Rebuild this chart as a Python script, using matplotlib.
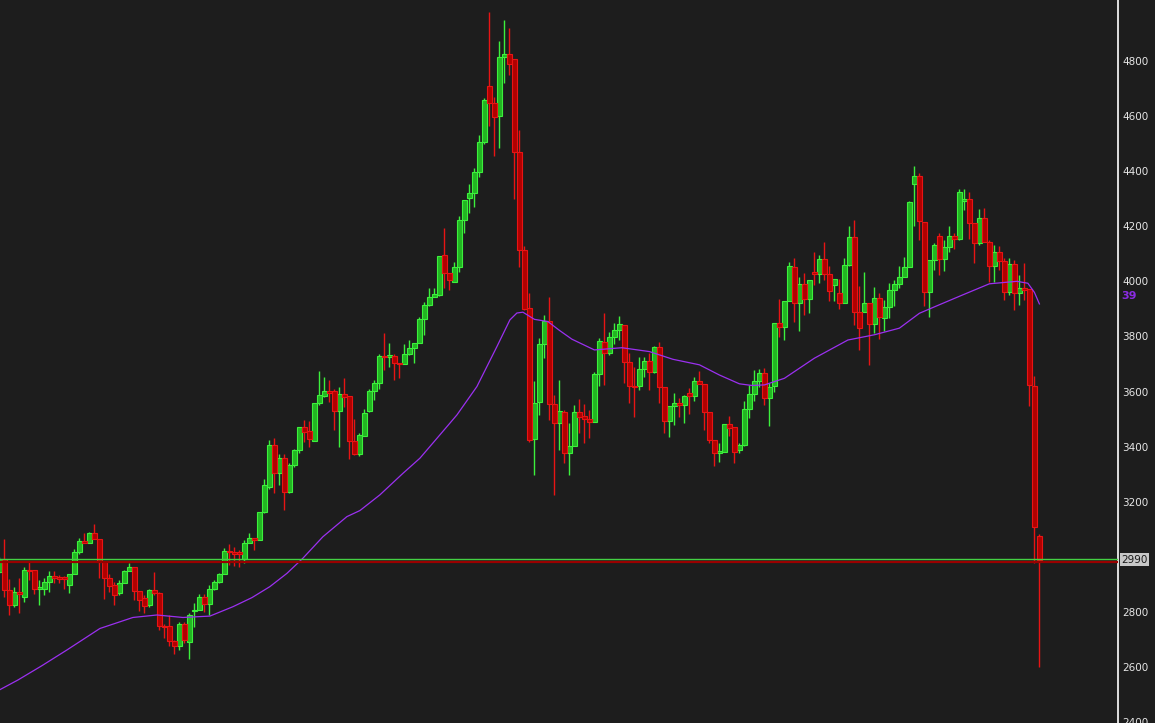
import matplotlib
matplotlib.use("Agg")
import matplotlib.pyplot as plt
import matplotlib.transforms as mtransforms
import numpy as np

# ---------------- data ----------------
open_ = [2946, 2994, 2879, 2825, 2871, 2855, 2954, 2952, 2882, 2882,
         2910, 2930, 2928, 2926, 2897, 2937, 3016, 3058, 3049, 3087,
         3063, 2982, 2925, 2897, 2867, 2904, 2948, 2962, 2876, 2849,
         2824, 2879, 2870, 2749, 2749, 2695, 2676, 2758, 2692, 2804,
         2807, 2855, 2829, 2882, 2907, 2937, 3021, 3018, 3016, 2991,
         3049, 3067, 3061, 3164, 3255, 3406, 3303, 3357, 3236, 3335,
         3388, 3470, 3456, 3421, 3557, 3585, 3602, 3602, 3530, 3590,
         3583, 3421, 3375, 3440, 3530, 3602, 3630, 3730, 3724, 3729,
         3705, 3699, 3738, 3759, 3777, 3862, 3914, 3944, 3950, 4096,
         4031, 3999, 4053, 4223, 4301, 4319, 4396, 4504, 4709, 4646,
         4601, 4813, 4825, 4806, 4471, 4114, 3902, 3427, 3563, 3771,
         3857, 3554, 3485, 3525, 3378, 3404, 3525, 3511, 3500, 3491,
         3663, 3781, 3741, 3797, 3823, 3842, 3706, 3620, 3620, 3681,
         3711, 3670, 3761, 3618, 3493, 3548, 3557, 3551, 3594, 3584,
         3639, 3628, 3527, 3424, 3376, 3382, 3482, 3470, 3386, 3406,
         3536, 3591, 3639, 3666, 3578, 3620, 3848, 3833, 3929, 4051,
         3921, 3989, 3935, 4033, 4027, 4080, 4027, 3987, 3957, 3923,
         4060, 4160, 3890, 3890, 3920, 3844, 3939, 3866, 3906, 3969,
         3991, 4017, 4051, 4354, 4383, 4217, 3963, 4078, 4165, 4080,
         4124, 4165, 4153, 4293, 4298, 4211, 4138, 4229, 4142, 4054,
         4105, 4072, 3963, 4063, 3957, 3975, 3971, 3619, 3077]
high = [3000, 3063, 2919, 2891, 2922, 2964, 2985, 2952, 2916, 2925,
        2950, 2950, 2934, 2930, 2937, 3027, 3067, 3085, 3091, 3119,
        3063, 2982, 2937, 2909, 2916, 2954, 2976, 2964, 2876, 2861,
        2882, 2946, 2873, 2758, 2789, 2698, 2764, 2764, 2795, 2831,
        2864, 2865, 2897, 2916, 2942, 3031, 3046, 3034, 3024, 3061,
        3087, 3070, 3164, 3281, 3424, 3430, 3373, 3373, 3339, 3393,
        3472, 3496, 3494, 3559, 3674, 3654, 3642, 3611, 3615, 3648,
        3583, 3502, 3448, 3535, 3608, 3642, 3738, 3813, 3775, 3738,
        3705, 3772, 3787, 3775, 3872, 3926, 3974, 3974, 4092, 4192,
        4031, 4071, 4237, 4295, 4353, 4410, 4531, 4664, 4976, 4670,
        4872, 4949, 4918, 4806, 4549, 4130, 3957, 3638, 3793, 3878,
        3944, 3588, 3642, 3533, 3485, 3551, 3573, 3555, 3533, 3670,
        3793, 3884, 3817, 3848, 3874, 3842, 3739, 3688, 3724, 3724,
        3739, 3766, 3781, 3618, 3548, 3594, 3576, 3588, 3612, 3652,
        3676, 3628, 3527, 3424, 3412, 3482, 3511, 3470, 3412, 3564,
        3624, 3679, 3681, 3687, 3630, 3848, 3936, 3929, 4069, 4084,
        4017, 4032, 4005, 4106, 4096, 4144, 4057, 4007, 4008, 4084,
        4201, 4223, 3983, 4035, 3920, 3981, 3957, 3933, 3993, 4005,
        4054, 4088, 4293, 4419, 4393, 4217, 4078, 4138, 4177, 4151,
        4201, 4175, 4336, 4335, 4324, 4211, 4262, 4265, 4151, 4132,
        4129, 4084, 4084, 4078, 4023, 4066, 3971, 3657, 3082]
low = [2940, 2855, 2789, 2819, 2795, 2837, 2916, 2864, 2827, 2861,
       2873, 2906, 2904, 2885, 2870, 2937, 3012, 3049, 3049, 3063,
       2924, 2847, 2873, 2825, 2861, 2904, 2948, 2843, 2803, 2797,
       2819, 2861, 2734, 2704, 2676, 2649, 2662, 2686, 2631, 2746,
       2807, 2801, 2789, 2879, 2904, 2937, 2970, 2968, 2964, 2976,
       3049, 3024, 3061, 3160, 3248, 3230, 3261, 3170, 3232, 3327,
       3378, 3418, 3400, 3421, 3551, 3581, 3563, 3462, 3400, 3545,
       3354, 3369, 3366, 3438, 3527, 3571, 3611, 3678, 3688, 3642,
       3648, 3699, 3732, 3702, 3775, 3806, 3910, 3944, 3945, 3975,
       3968, 3999, 4035, 4177, 4247, 4271, 4380, 4500, 4564, 4456,
       4483, 4721, 4749, 4300, 4053, 3895, 3418, 3297, 3515, 3721,
       3497, 3225, 3388, 3342, 3297, 3404, 3451, 3412, 3433, 3491,
       3620, 3624, 3733, 3773, 3787, 3632, 3557, 3509, 3606, 3654,
       3606, 3666, 3557, 3451, 3436, 3479, 3509, 3485, 3519, 3564,
       3628, 3461, 3412, 3331, 3346, 3382, 3439, 3342, 3376, 3404,
       3503, 3564, 3618, 3551, 3475, 3600, 3799, 3787, 3927, 3854,
       3818, 3878, 3884, 3987, 3993, 4005, 3927, 3927, 3899, 3923,
       4056, 3842, 3751, 3887, 3697, 3812, 3791, 3818, 3866, 3909,
       3975, 4017, 4051, 4199, 4151, 3909, 3872, 4042, 4023, 4036,
       4105, 4117, 4151, 4260, 4153, 4068, 4132, 4141, 3999, 3999,
       4042, 3933, 3951, 3896, 3915, 3933, 3549, 2976, 2600]
close = [2994, 2879, 2825, 2871, 2864, 2954, 2950, 2882, 2889, 2910,
         2930, 2925, 2920, 2919, 2937, 3018, 3057, 3051, 3087, 3063,
         2982, 2925, 2895, 2861, 2904, 2948, 2964, 2876, 2843, 2821,
         2879, 2867, 2749, 2744, 2695, 2676, 2758, 2698, 2789, 2807,
         2855, 2829, 2882, 2907, 2937, 3021, 3016, 3012, 3012, 3049,
         3067, 3061, 3164, 3261, 3406, 3303, 3357, 3236, 3335, 3388,
         3470, 3454, 3426, 3557, 3587, 3602, 3595, 3530, 3590, 3581,
         3421, 3373, 3442, 3521, 3602, 3632, 3729, 3724, 3732, 3705,
         3699, 3738, 3759, 3775, 3862, 3914, 3944, 3954, 4092, 4031,
         4005, 4053, 4223, 4295, 4319, 4396, 4504, 4658, 4646, 4598,
         4813, 4825, 4788, 4471, 4114, 3899, 3424, 3557, 3771, 3857,
         3554, 3485, 3531, 3378, 3404, 3525, 3509, 3499, 3491, 3663,
         3784, 3741, 3797, 3823, 3845, 3706, 3620, 3615, 3681, 3711,
         3670, 3761, 3618, 3493, 3548, 3557, 3551, 3582, 3584, 3639,
         3628, 3527, 3424, 3376, 3384, 3482, 3469, 3382, 3406, 3536,
         3591, 3639, 3666, 3578, 3618, 3848, 3833, 3929, 4054, 3921,
         3989, 3935, 4005, 4027, 4080, 4027, 3966, 4007, 3923, 4060,
         4160, 3890, 3830, 3920, 3844, 3939, 3870, 3906, 3969, 3991,
         4017, 4051, 4287, 4383, 4220, 3963, 4078, 4132, 4080, 4124,
         4165, 4153, 4324, 4298, 4211, 4138, 4229, 4142, 4054, 4105,
         4072, 3963, 4063, 3957, 3975, 3967, 3624, 3108, 2988]

# moving average line, read at sample bar positions
ma_pos = [0, 3.7, 8.5, 13.5, 20.1, 26.7, 31.5, 36.7, 42.1, 46.7,
          50.5, 54.1, 57.5, 60.7, 64.7, 69.5, 72.1, 76.1, 80.7, 84.1,
          87.5, 91.5, 95.5, 99.5, 102.1, 103.5, 104.7, 107, 109.7, 112,
          114.5, 119, 124.5, 130, 134.7, 140, 144, 148, 150.5, 153,
          157, 163, 169.7, 175, 180, 184, 188, 192.7, 198, 203.5,
          205.7, 207, 208]
ma_val = [2517, 2553, 2605, 2662, 2740, 2780, 2789, 2780, 2785, 2819,
          2852, 2892, 2940, 2995, 3073, 3146, 3168, 3225, 3303, 3358,
          3430, 3515, 3618, 3763, 3860, 3885, 3888, 3862, 3854, 3822,
          3790, 3751, 3759, 3745, 3717, 3697, 3660, 3628, 3622, 3624,
          3648, 3721, 3787, 3806, 3830, 3884, 3915, 3951, 3991, 4000,
          3993, 3960, 3918]

y_ticks = [2400, 2600, 2800, 3000, 3200, 3400, 3600, 3800, 4000, 4200, 4400, 4600, 4800]
y_tick_labels = [str(v) for v in y_ticks]
level_price = 2990
level_label = "2990"
ma_label = "39"
ma_label_price = 3946

# ---------------- styling ----------------
bg = "#1d1d1d"
g_fill, g_edge = "#22b522", "#3cf03c"
r_fill, r_edge = "#b00000", "#e81414"
ma_color = "#9b30f0"

fig = plt.figure(figsize=(11.55, 7.23), dpi=100, facecolor=bg)
ax = fig.add_axes([0, 0, 1118 / 1155, 1])
ax.set_facecolor(bg)

o = np.array(open_, float)
h = np.array(high, float)
l = np.array(low, float)
c = np.array(close, float)
x = np.arange(len(o))
up = c >= o
dn = ~up

ax.vlines(x[up], l[up], h[up], color=g_edge, lw=1.0, zorder=2)
ax.vlines(x[dn], l[dn], h[dn], color=r_edge, lw=1.0, zorder=2)

bottom = np.minimum(o, c)
height = np.maximum(np.abs(c - o), 4)
ax.bar(x[up], height[up], bottom=bottom[up], width=0.86,
       color=g_fill, edgecolor=g_edge, linewidth=0.8, zorder=3)
ax.bar(x[dn], height[dn], bottom=bottom[dn], width=0.86,
       color=r_fill, edgecolor=r_edge, linewidth=0.8, zorder=3)

ax.plot(ma_pos, ma_val, color=ma_color, lw=0.9, zorder=4)

ax.axhline(level_price - 7, color="#9a0000", lw=1.6, zorder=5)
ax.axhline(level_price + 1, color="#44d044", lw=1.0, zorder=6)

ax.set_xlim(0.12, 223.72)
ax.set_ylim(2397, 5021)

for side in ["left", "top", "bottom"]:
    ax.spines[side].set_visible(False)
ax.spines["right"].set_color("white")
ax.spines["right"].set_linewidth(1.2)

ax.set_xticks([])
ax.yaxis.tick_right()
ax.set_yticks(y_ticks)
ax.set_yticklabels(y_tick_labels)
ax.tick_params(axis="y", length=0, pad=3, labelcolor="#e6e6e6", labelsize=7.5)
for t in ax.get_yticklabels():
    t.set_family("DejaVu Sans")

trans = mtransforms.blended_transform_factory(ax.transAxes, ax.transData)
ax.text(1 + 3 / 1118, level_price, level_label, transform=trans, ha="left", va="center",
        fontsize=7.5, color="#1a1a1a", clip_on=False, zorder=10,
        bbox=dict(boxstyle="square,pad=0.12", fc="#c8c8c8", ec="none"))
ax.text(1 + 3 / 1118, ma_label_price, ma_label, transform=trans, ha="left", va="center",
        fontsize=8, fontweight="bold", color="#8a2be2", clip_on=False, zorder=10)

fig.savefig("out.png", dpi=100, facecolor=bg)
